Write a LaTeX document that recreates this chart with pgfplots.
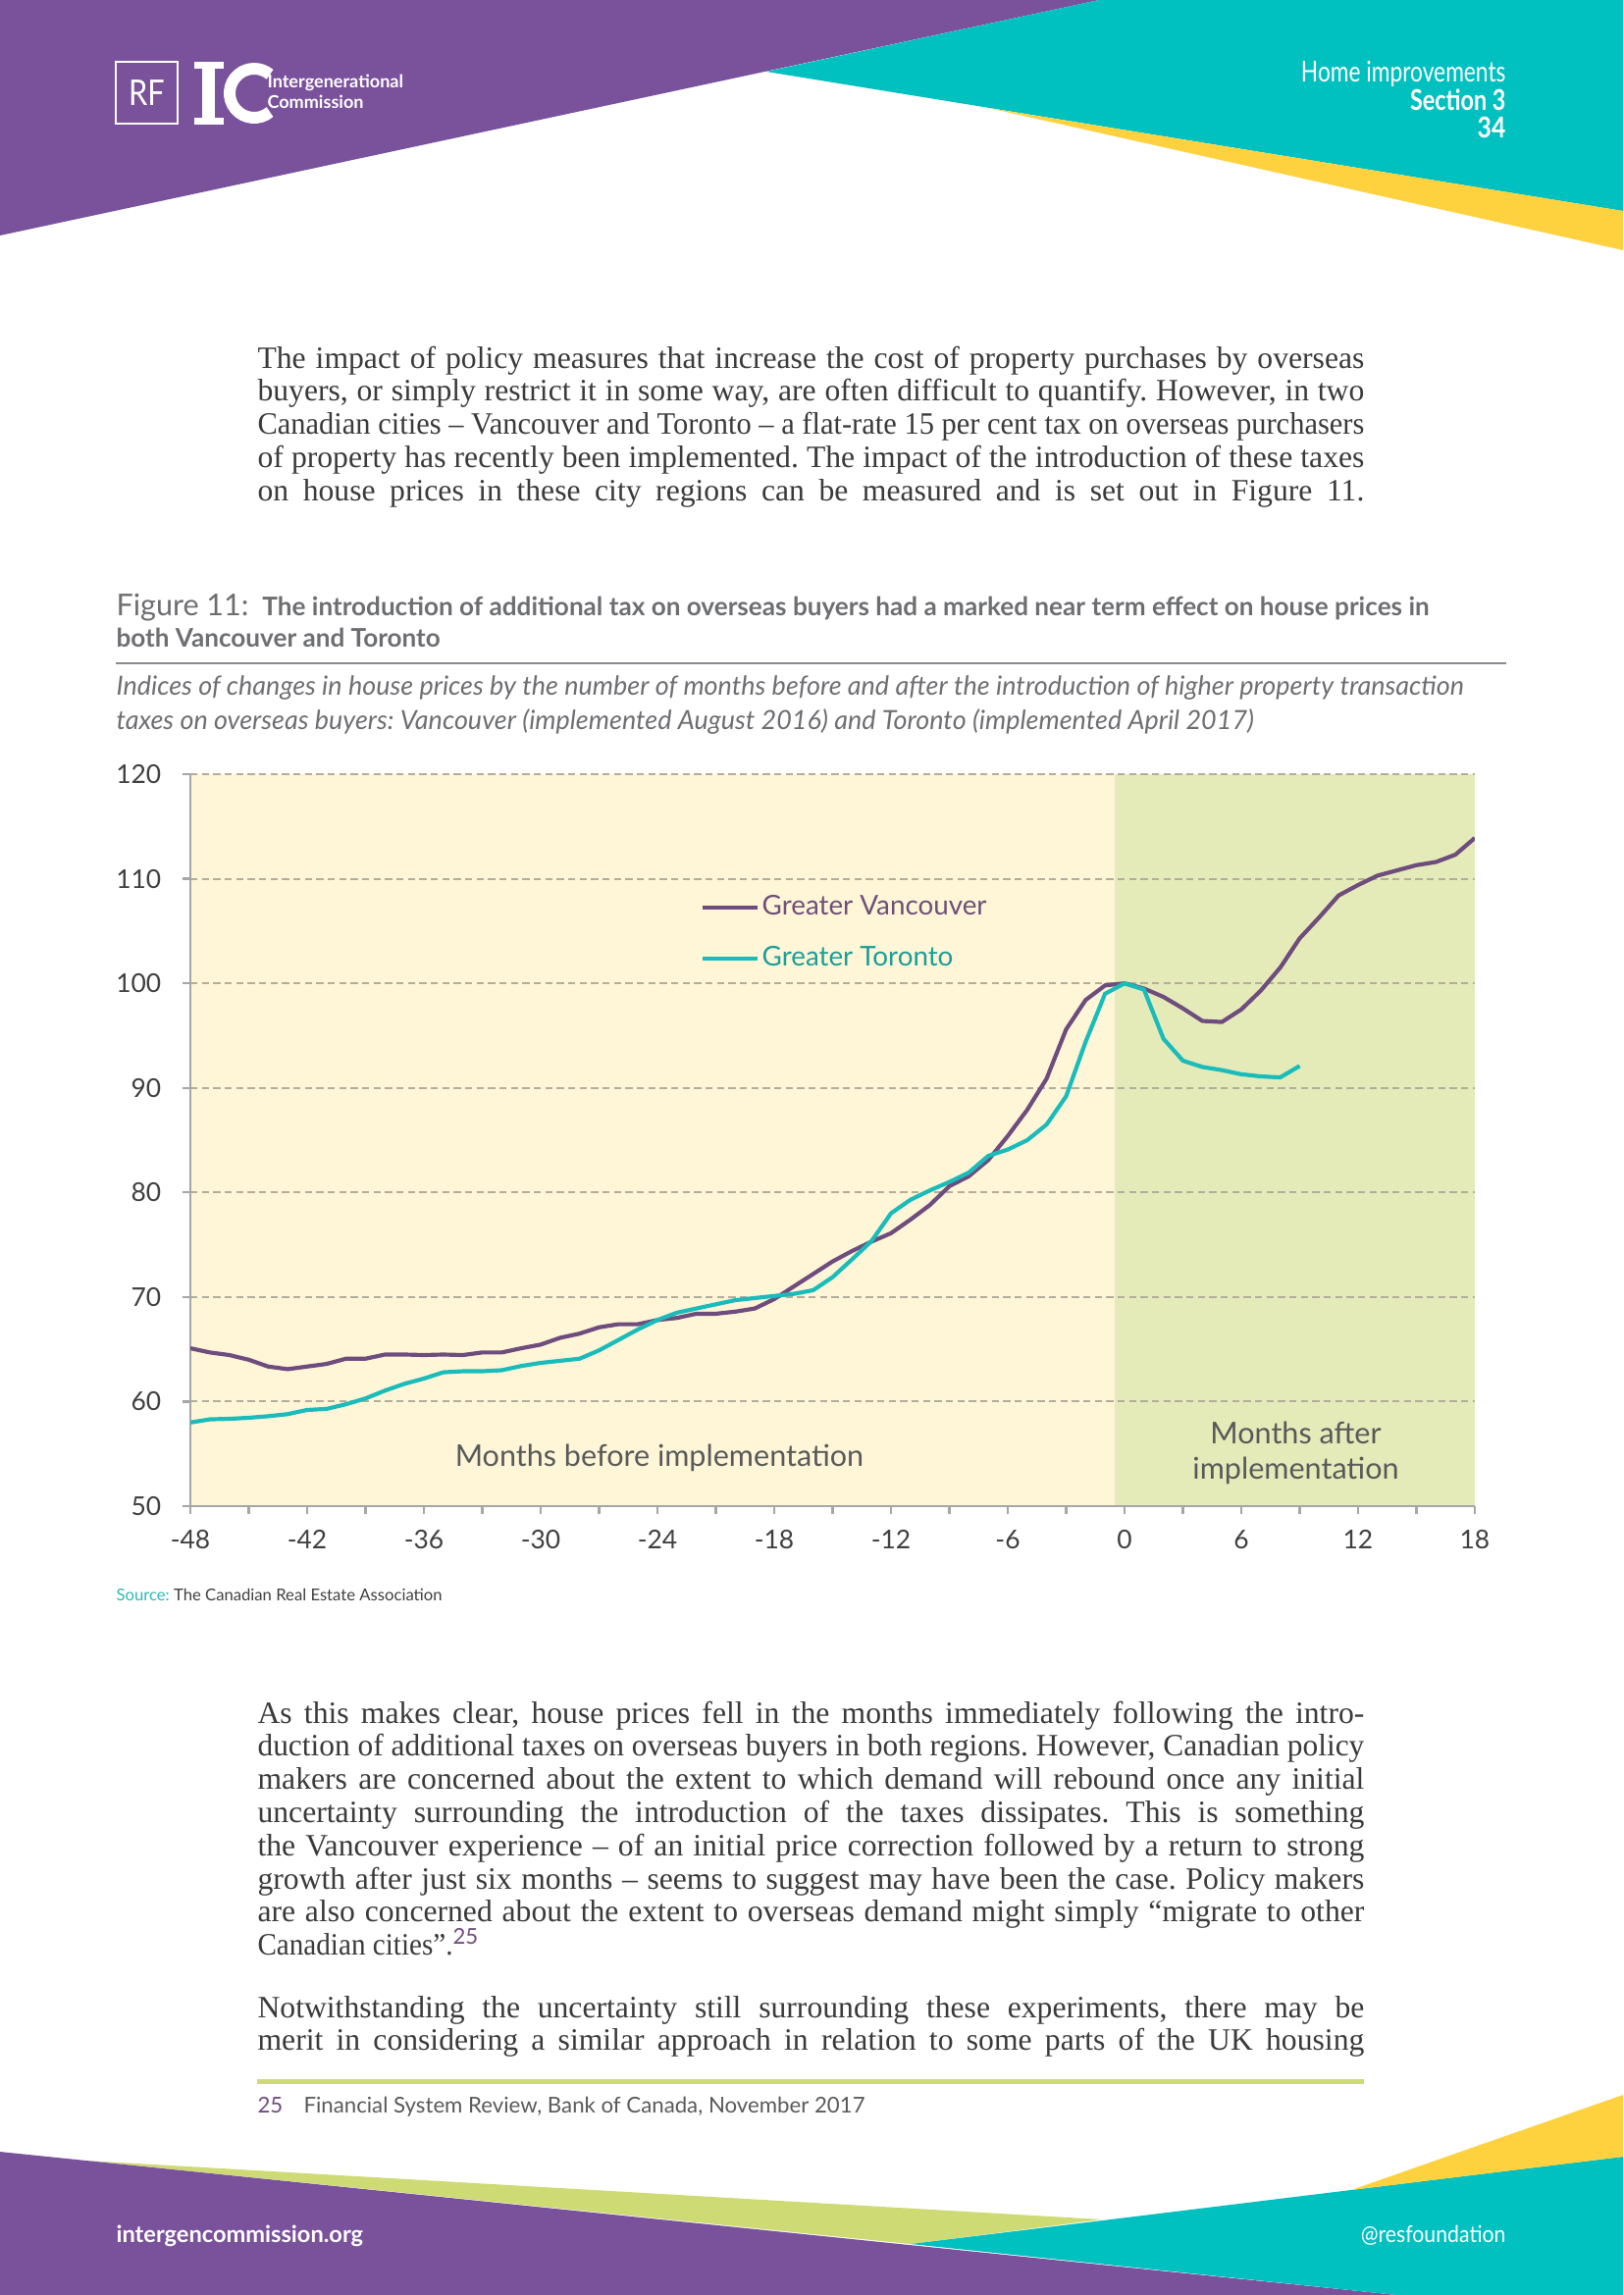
\documentclass[border=0pt]{standalone}
\usepackage{fontspec}
\usepackage{graphicx}
\usepackage{pgfplots}
\pgfplotsset{compat=1.18}
\setmainfont{Liberation Serif}
\newfontfamily\lato{Lato}
\definecolor{vanc}{HTML}{6E4C7D}
\definecolor{vanctext}{HTML}{6E4F79}
\definecolor{toro}{HTML}{19BCBA}
\definecolor{torotext}{HTML}{1B9E98}
\definecolor{ybg}{HTML}{FFF6D8}
\definecolor{gbg}{HTML}{E4EBB8}
\definecolor{gridc}{HTML}{B3AD9B}
\definecolor{axisc}{HTML}{A6A6A6}
\definecolor{tickc}{HTML}{3F3F3F}
\definecolor{labelc}{HTML}{595959}
\definecolor{titlec}{HTML}{6D6E71}
\definecolor{bodyc}{HTML}{3A3A3A}
\definecolor{hpurple}{HTML}{7A519B}
\definecolor{hteal}{HTML}{00C0C0}
\definecolor{hyellow}{HTML}{FDD23E}
\definecolor{hlime}{HTML}{CEDB74}
\definecolor{srcteal}{HTML}{2BB8B5}
\newsavebox\jbox
\newcommand\jline[2]{\sbox\jbox{#2}\ifdim\wd\jbox>#1\relax\resizebox{#1}{\height}{#2}\else\makebox[#1][s]{#2}\fi}
\pgfplotstableread{
x y
-48 65.1
-47 64.7
-46 64.45
-45 64.0
-44 63.35
-43 63.1
-42 63.35
-41 63.6
-40 64.1
-39 64.1
-38 64.5
-37 64.5
-36 64.45
-35 64.5
-34 64.45
-33 64.7
-32 64.7
-31 65.1
-30 65.45
-29 66.1
-28 66.5
-27 67.1
-26 67.4
-25 67.4
-24 67.8
-23 68.0
-22 68.4
-21 68.4
-20 68.6
-19 68.9
-18 69.8
-17 71.0
-16 72.2
-15 73.4
-14 74.4
-13 75.3
-12 76.1
-11 77.4
-10 78.8
-9 80.6
-8 81.55
-7 83.1
-6 85.4
-5 87.9
-4 90.9
-3 95.6
-2 98.4
-1 99.8
0 100
1 99.5
2 98.7
3 97.6
4 96.4
5 96.3
6 97.5
7 99.3
8 101.5
9 104.3
10 106.3
11 108.4
12 109.4
13 110.3
14 110.8
15 111.3
16 111.6
17 112.3
18 113.9
}\vancouver
\pgfplotstableread{
x y
-48 58.0
-47 58.3
-46 58.35
-45 58.45
-44 58.6
-43 58.8
-42 59.2
-41 59.3
-40 59.75
-39 60.3
-38 61.05
-37 61.7
-36 62.2
-35 62.8
-34 62.9
-33 62.9
-32 63.0
-31 63.4
-30 63.7
-29 63.9
-28 64.1
-27 64.9
-26 65.9
-25 66.9
-24 67.8
-23 68.5
-22 68.9
-21 69.3
-20 69.7
-19 69.9
-18 70.1
-17 70.3
-16 70.65
-15 71.9
-14 73.6
-13 75.35
-12 78.0
-11 79.3
-10 80.2
-9 81.0
-8 81.9
-7 83.5
-6 84.1
-5 85.0
-4 86.5
-3 89.2
-2 94.4
-1 99.0
0 100
1 99.4
2 94.7
3 92.6
4 92.0
5 91.7
6 91.3
7 91.1
8 91.0
9 92.1
}\toronto
\begin{document}
\frenchspacing
\begin{tikzpicture}
\begin{scope}[x=0.36pt,y=-0.36pt]
\useasboundingbox (0,0) rectangle (1654,2339);
% header shapes
\fill[hpurple] (0,0) -- (1120,0) -- (0,240) -- cycle;
\fill[hteal] (781,73) -- (1120,0) -- (1654,0) -- (1654,215) -- cycle;
\fill[hyellow] (1007,110) -- (1654,215) -- (1654,255) -- cycle;
% logo
\draw[white, line width=0.5pt] (118,63) rectangle (181,126);
\node[white, inner sep=0pt, font=\lato\fontsize{13}{13}\selectfont] at (149.5,95) {\scalebox{0.85}[1]{RF}};
\fill[white] (198,63) rectangle (228,70);
\fill[white] (206,63) rectangle (219,127);
\fill[white] (198,120) rectangle (228,127);
\draw[white, line width=4.3pt] (275.07,114.15) arc[start angle=50, end angle=310, radius=25];
\node[anchor=base west, inner sep=0pt, white, font=\lato\bfseries\fontsize{6.5}{7}\selectfont] at (272,89) {Intergenerational};
\node[anchor=base west, inner sep=0pt, white, font=\lato\bfseries\fontsize{6.5}{7}\selectfont] at (272,110) {Commission};
\node[anchor=base east, inner sep=0pt, white, font=\lato\fontsize{10.5}{12}\selectfont] at (1535,83) {\scalebox{0.78}[1]{Home improvements}};
\node[anchor=base east, inner sep=0pt, white, font=\lato\bfseries\fontsize{10.5}{12}\selectfont] at (1535,112) {\scalebox{0.8}[1]{Section 3}};
\node[anchor=base east, inner sep=0pt, white, font=\lato\bfseries\fontsize{10.5}{12}\selectfont] at (1535,140) {\scalebox{0.85}[1]{34}};
% paragraph 1
\begin{scope}[every node/.style={anchor=base west, inner sep=0pt, text=bodyc, font=\fontsize{11.4}{12}\selectfont}]
\node at (262,375) {\jline{406pt}{The impact of policy measures that increase the cost of property purchases by overseas}};
\node at (262,408.8) {\jline{406pt}{buyers, or simply restrict it in some way, are often difficult to quantify. However, in two}};
\node at (262,442.6) {\jline{406pt}{Canadian cities -- Vancouver and Toronto -- a flat-rate 15 per cent tax on overseas purchasers}};
\node at (262,476.4) {\jline{406pt}{of property has recently been implemented. The impact of the introduction of these taxes}};
\node at (262,510.2) {\jline{406pt}{on house prices in these city regions can be measured and is set out in Figure 11.}};
% paragraph 2
\node at (262,1756) {\jline{406pt}{As this makes clear, house prices fell in the months immediately following the intro-}};
\node at (262,1789.8) {\jline{406pt}{duction of additional taxes on overseas buyers in both regions. However, Canadian policy}};
\node at (262,1823.6) {\jline{406pt}{makers are concerned about the extent to which demand will rebound once any initial}};
\node at (262,1857.4) {\jline{406pt}{uncertainty surrounding the introduction of the taxes dissipates. This is something}};
\node at (262,1891.2) {\jline{406pt}{the Vancouver experience -- of an initial price correction followed by a return to strong}};
\node at (262,1925) {\jline{406pt}{growth after just six months -- seems to suggest may have been the case. Policy makers}};
\node at (262,1958.8) {\jline{406pt}{are also concerned about the extent to overseas demand might simply “migrate to other}};
\node at (262,1992.6) {\scalebox{0.92}[1]{Canadian cities”.}\textsuperscript{\textcolor{vanc}{\lato 25}}};
% paragraph 3
\node at (262,2056) {\jline{406pt}{Notwithstanding the uncertainty still surrounding these experiments, there may be}};
\node at (262,2089.8) {\jline{406pt}{merit in considering a similar approach in relation to some parts of the UK housing}};
\end{scope}
% figure title
\node[anchor=base west, inner sep=0pt, text=titlec] at (118,627) {{\lato\fontsize{11}{13}\selectfont Figure 11:}\hspace{5pt}{\lato\bfseries\fontsize{9.4}{10}\selectfont The introduction of additional tax on overseas buyers had a marked near term effect on house prices in}};
\node[anchor=base west, inner sep=0pt, text=titlec, font=\lato\bfseries\fontsize{9.4}{10}\selectfont] at (118,659) {both Vancouver and Toronto};
\draw[titlec!80, line width=0.6pt] (118,676) -- (1535,676);
\node[anchor=base west, inner sep=0pt, text=titlec, font=\lato\itshape\fontsize{9.7}{10}\selectfont] at (118,708) {Indices of changes in house prices by the number of months before and after the introduction of higher property transaction};
\node[anchor=base west, inner sep=0pt, text=titlec, font=\lato\itshape\fontsize{9.7}{10}\selectfont] at (118,743) {taxes on overseas buyers: Vancouver (implemented August 2016) and Toronto (implemented April 2017)};
% source
\node[anchor=base west, inner sep=0pt, font=\lato\fontsize{6}{7}\selectfont] at (118,1631) {\textcolor{srcteal}{Source:} \textcolor{tickc}{The Canadian Real Estate Association}};
% footnote
\fill[hlime] (262,2118.5) rectangle (1390,2123.5);
\node[anchor=base west, inner sep=0pt, text=vanc, font=\lato\fontsize{8}{9}\selectfont] at (262,2153) {25};
\node[anchor=base west, inner sep=0pt, text=labelc, font=\lato\fontsize{8}{9}\selectfont] at (309,2153) {Financial System Review, Bank of Canada, November 2017};
% footer shapes
\fill[hlime] (88,2202) -- (1123,2262) -- (928,2287) -- cycle;
\fill[hpurple] (0,2193) -- (1424,2339) -- (0,2339) -- cycle;
\fill[hteal] (928,2287) -- (1654,2198) -- (1654,2339) -- (1424,2339) -- cycle;
\fill[hyellow] (1377,2232) -- (1654,2135) -- (1654,2198) -- cycle;
\node[anchor=base west, inner sep=0pt, white, font=\lato\bfseries\fontsize{8.5}{10}\selectfont] at (118,2285) {intergencommission.org};
\node[anchor=base east, inner sep=0pt, white, font=\lato\fontsize{8.5}{10}\selectfont] at (1535,2285) {\scalebox{0.9}[1]{@resfoundation}};
\end{scope}
\begin{axis}[
  set layers,
  at={(69.84pt,-552.6pt)}, anchor=south west,
  scale only axis, width=471.24pt, height=268.56pt,
  xmin=-48, xmax=18, ymin=50, ymax=120,
  axis x line*=bottom, axis y line*=left,
  axis line style={-, draw=axisc, line width=0.8pt},
  xtick={-48,-45,...,18},
  xticklabels={{-48},{},{-42},{},{-36},{},{-30},{},{-24},{},{-18},{},{-12},{},{-6},{},{0},{},{6},{},{12},{},{18}},
  ytick={50,60,...,120},
  yticklabels={50,60,70,80,90,100,110,120},
  tick align=outside, major tick length=3pt,
  tick style={draw=axisc, line width=0.8pt},
  ticklabel style={font=\lato\fontsize{9.5}{11}\selectfont, text=tickc},
  xticklabel style={inner sep=0pt, yshift=-5.5pt},
  yticklabel style={inner sep=0pt, xshift=-7.5pt},
  ymajorgrids,
  grid style={draw=gridc, line width=0.7pt, dash pattern=on 2.6pt off 1.6pt},
  legend cell align=left,
  legend image code/.code={\draw[#1] (0pt,0pt) -- (20pt,0pt);},
  legend style={draw=none, fill=none, at={(0.397,0.783)}, anchor=west,
    font=\lato\fontsize{10}{12}\selectfont, row sep=8pt, inner sep=0pt,
    nodes={inner sep=1pt}},
]
\begin{pgfonlayer}{axis background}
\fill[ybg] (axis cs:-48,50) rectangle (axis cs:-0.5,120);
\fill[gbg] (axis cs:-0.5,50) rectangle (axis cs:18,120);
\end{pgfonlayer}
\addplot[vanc, line width=1.5pt] table[x=x,y=y] {\vancouver};
\addlegendentry{\textcolor{vanctext}{Greater Vancouver}}
\addplot[toro, line width=1.5pt] table[x=x,y=y] {\toronto};
\addlegendentry{\textcolor{torotext}{Greater Toronto}}
\node[font=\lato\fontsize{11}{13}\selectfont, text=labelc] at (axis cs:-23.9,54.6) {Months before implementation};
\node[font=\lato\fontsize{11}{13}\selectfont, text=labelc, align=center] at (axis cs:8.8,55.1) {Months after\\implementation};
\end{axis}
\end{tikzpicture}
\end{document}
